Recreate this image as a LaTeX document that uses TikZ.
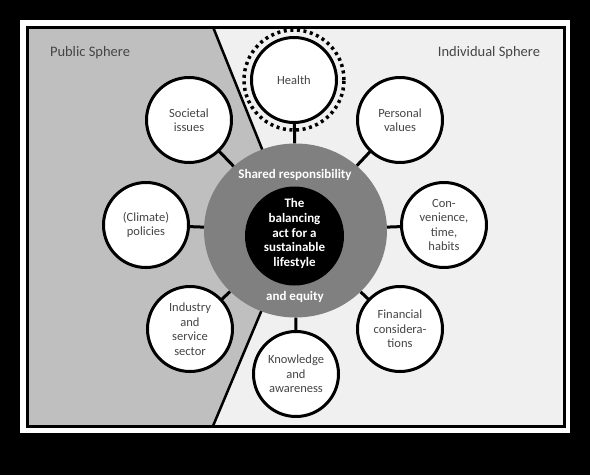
\documentclass[tikz,border=0pt]{standalone}
\usepackage{fontspec}
\setmainfont{Carlito}
\usetikzlibrary{shapes.geometric}
\definecolor{pubgrey}{HTML}{BFBFBF}
\definecolor{indgrey}{HTML}{F0F0F0}
\definecolor{midgrey}{HTML}{808080}
\definecolor{txtgrey}{HTML}{454545}
\tikzset{
  sat/.style={circle, draw=black, fill=white, line width=3pt, minimum size=85pt, inner sep=0pt,
    align=center, font=\fontsize{12.5}{14.6}\selectfont, text=txtgrey},
  conn/.style={line width=3pt},
  divider/.style={line width=2.5pt},
  sphere/.style={font=\fontsize{14.5}{16}\selectfont, text=txtgrey},
  whitebold/.style={text=white, font=\bfseries\fontsize{13}{14.6}\selectfont, align=center}
}
\begin{document}
\begin{tikzpicture}[x=1pt,y=-1pt]
\useasboundingbox (0,0) rectangle (590,475);
\fill[black] (0,0) rectangle (590,475);
\fill[white] (20,20) rectangle (570,433);
\fill[indgrey] (27,27) rectangle (564,426);
\coordinate (mid) at (295,231);
\coordinate (dtop) at (213,27);
\coordinate (dbot) at (213,426);
\fill[pubgrey] (27,27) -- (dtop) -- (mid) -- (dbot) -- (27,426) -- cycle;
\draw[divider] (dtop) -- (mid) -- (dbot);
\draw[line width=3pt] (27,27) rectangle (564,426);
\node[sphere] (pub) at (90,53) {Public Sphere};
\node[sphere] (ind) at (489,53) {Individual Sphere};
% central circle
\node[ellipse, fill=midgrey, minimum width=183pt, minimum height=174pt, inner sep=0pt] (core) at (295.5,230.5) {};
\node[circle, fill=black, minimum size=99pt, inner sep=0pt] (bal) at (294.5,236) {};
\node[whitebold] (baltext) at (294.5,233.5) {The\\balancing\\act for a\\sustainable\\lifestyle};
\node[whitebold] (shared) at (295,175) {Shared responsibility};
\node[whitebold] (equity) at (295,297) {and equity};
% satellites coordinates
\coordinate (pHealth) at (294,80);
\coordinate (pSoc) at (189,120);
\coordinate (pPers) at (400,120);
\coordinate (pClim) at (146,225);
\coordinate (pConv) at (444,225);
\coordinate (pInd) at (190,329);
\coordinate (pFin) at (400,329);
\coordinate (pKnow) at (296,374);
% connectors (drawn under satellites)
\foreach \p in {pHealth,pSoc,pPers,pClim,pConv,pInd,pFin,pKnow}
  \draw[conn] (core) -- (\p);
% health ring
\node[circle, draw=black, line width=3.5pt, dash pattern=on 3pt off 3.6pt, minimum size=100pt, inner sep=0pt] (ring) at (pHealth) {};
% satellites
\node[sat] (health) at (pHealth) {Health};
\node[sat] (soc) at (pSoc) {Societal\\issues};
\node[sat] (pers) at (pPers) {Personal\\values};
\node[sat] (clim) at (pClim) {(Climate)\\policies};
\node[sat] (conv) at (pConv) {Con-\\venience,\\time,\\habits};
\node[sat] (indu) at (pInd) {Industry\\and\\service\\sector};
\node[sat] (fin) at (pFin) {Financial\\considera-\\tions};
\node[sat] (know) at (pKnow) {Knowledge\\and\\awareness};
\end{tikzpicture}
\end{document}
